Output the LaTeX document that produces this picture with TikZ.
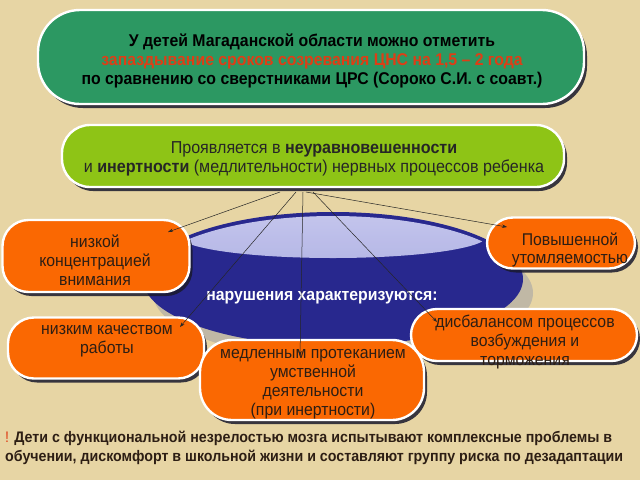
\documentclass[tikz,border=0pt]{standalone}
\usepackage{fontspec}
\setmainfont[FakeStretch=0.93]{Liberation Sans}
\usetikzlibrary{shadows,arrows.meta,shapes.geometric}
\definecolor{bgc}{RGB}{231,213,164}
\definecolor{topgreen}{RGB}{44,152,98}
\definecolor{limeg}{RGB}{142,196,22}
\definecolor{orng}{RGB}{250,104,2}
\definecolor{navy}{RGB}{40,40,142}
\definecolor{hitop}{RGB}{205,206,242}
\definecolor{himid}{RGB}{82,86,178}
\definecolor{hibot}{RGB}{190,192,235}
\definecolor{redtxt}{RGB}{222,62,22}
\definecolor{txt}{RGB}{45,30,20}
\definecolor{shd}{RGB}{25,25,45}
\tikzset{
  boxbase/.style={draw=white, line width=2.4pt, inner sep=0pt,
     drop shadow={shadow xshift=3pt, shadow yshift=-4pt, fill=shd, opacity=0.85}},
  greenbox/.style={boxbase, fill=topgreen, rounded corners=42pt},
  limebox/.style={boxbase, fill=limeg, rounded corners=28pt},
  obox/.style={boxbase, fill=orng, rounded corners=26pt},
  btxt/.style={align=center, font=\fontsize{17}{18.8}\selectfont, text=txt},
  arr/.style={draw=black!85, line width=0.5pt, -{Stealth[length=5pt,width=3.5pt]}}
}
\begin{document}
\begin{tikzpicture}[x=1pt,y=-1pt]
\fill[bgc] (0,0) rectangle (640,480);
\useasboundingbox (0,0) rectangle (640,480);

% ellipse
\fill[black!35, opacity=0.6] (343,293) ellipse [x radius=190, y radius=67];
\node[ellipse, draw=none, fill=navy, minimum width=380pt, minimum height=134pt, inner sep=0pt] (ell) at (333,279) {};
\begin{scope}
\clip (333,279) ellipse [x radius=186, y radius=63];
\shade[top color=hitop, middle color=himid, bottom color=hibot, opacity=0.95] (333,236) ellipse [x radius=154, y radius=22];
\end{scope}
\node[font=\bfseries\fontsize{17}{19}\selectfont, text=white] (elt) at (322,298) {нарушения характеризуются:};

% top box
\node[greenbox, minimum width=546pt, minimum height=94pt] (top) at (311,57) {};
\node[align=center, font=\bfseries\fontsize{17}{19.2}\selectfont] (topt) at (312,61)
 {У детей Магаданской области можно отметить\\
  \textcolor{redtxt}{запаздывание сроков созревания ЦНС на 1,5 – 2 года}\\
  по сравнению со сверстниками ЦРС (Сороко С.И. с соавт.)};

% second box
\node[limebox, minimum width=502pt, minimum height=62pt] (mid) at (313,156) {};
\node[align=center, font=\fontsize{17.3}{19.2}\selectfont, text=black!85] (midt) at (314,159)
 {Проявляется в \textbf{неуравновешенности}\\
  и \textbf{инертности} (медлительности) нервных процессов ребенка};

% orange boxes
\node[obox, minimum width=187pt, minimum height=72pt] (b1) at (96,256) {};
\node[btxt] (b1t) at (95,260) {низкой\\концентрацией\\внимания};

\node[obox, minimum width=148pt, minimum height=51pt] (b2) at (561,243) {};
\node[btxt] (b2t) at (570,250) {Повышенной\\утомляемостью};

\node[obox, minimum width=196pt, minimum height=61pt] (b3) at (106,348) {};
\node[btxt] (b3t) at (107,341) {низким качеством\\работы};

\node[obox, minimum width=226pt, minimum height=52pt] (b5) at (524,335) {};
\node[btxt] (b5t) at (525,342) {дисбалансом процессов\\возбуждения и\\торможения};

\node[obox, minimum width=224pt, minimum height=80pt, rounded corners=32pt] (b4) at (312,380) {};
\node[btxt] (b4t) at (313,384) {медленным протеканием\\умственной\\деятельности\\(при инертности)};

% connectors
\coordinate (s1) at (280,192);
\coordinate (s2) at (296,192);
\coordinate (s3) at (303,192);
\coordinate (s4) at (306,192);
\coordinate (s5) at (313,192);
\coordinate (e1) at (168,232);
\coordinate (e2) at (507,227);
\coordinate (e3) at (180,327);
\coordinate (e4) at (300,356);
\coordinate (e5) at (437,322);
\draw[arr] (s1) -- (e1);
\draw[arr] (s2) -- (e3);
\draw[arr] (s3) -- (e4);
\draw[arr] (s4) -- (e2);
\draw[arr] (s5) -- (e5);

% bottom text
\node[anchor=north west, align=left, inner sep=0pt, font=\bfseries\fontsize{15.3}{19.3}\selectfont, text=txt] (note) at (5,431)
 {\textcolor{redtxt}{\mdseries !} Дети с функциональной незрелостью мозга испытывают комплексные проблемы в\\
  обучении, дискомфорт в школьной жизни и составляют группу риска по дезадаптации};
\end{tikzpicture}
\end{document}
